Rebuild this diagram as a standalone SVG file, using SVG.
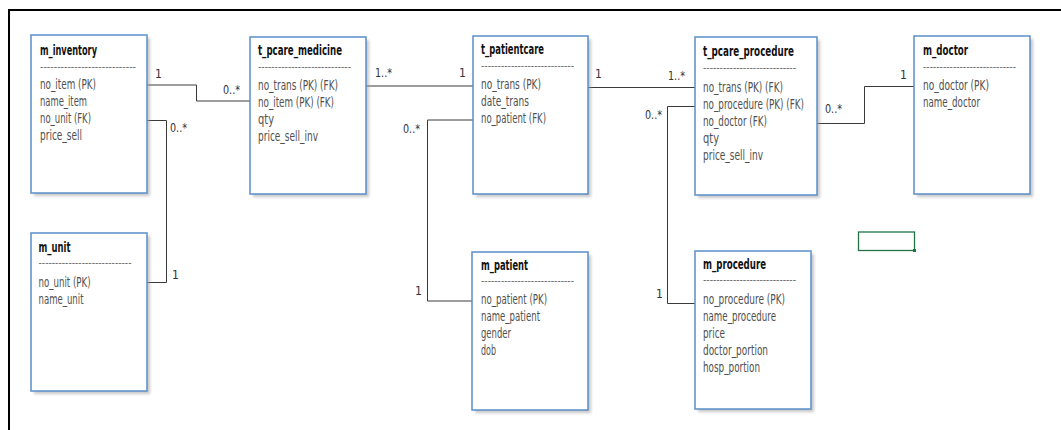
<svg xmlns="http://www.w3.org/2000/svg" width="1061" height="430" viewBox="0 0 1061 430">
<style>
.box{fill:#fff;stroke:#5b8fc9;stroke-width:1.5}
.sh{fill:#9a9a9a;opacity:0.55}
text{font-family:"DejaVu Sans Condensed","Liberation Sans Narrow","Liberation Sans",sans-serif}
.t{font-size:13.5px;font-weight:bold;fill:#111}
.f{font-size:14px;fill:#505050}
.d{font-size:11px;fill:#666}
.c{fill:none;stroke:#3a3a3a;stroke-width:1}
.l{font-size:12px;fill:#333}
</style>
<defs>
<filter id="blur" x="-10%" y="-10%" width="130%" height="130%"><feGaussianBlur stdDeviation="1.5"/></filter>
</defs>
<rect width="1061" height="430" fill="#fff"/>
<path d="M9,432 V10 H1063" fill="none" stroke="#000" stroke-width="2"/>

<g id="connectors">
<path class="c" d="M147,85 H196.5 V101 H250"/>
<path class="c" d="M147,120.5 H166.5 V282.5 H147"/>
<path class="c" d="M366,86 H473"/>
<path class="c" d="M473,120 H427.5 V301 H472"/>
<path class="c" d="M588,87.5 H695"/>
<path class="c" d="M695,106.5 H667.5 V303.5 H695"/>
<path class="c" d="M817,123.5 H864.5 V86.5 H914"/>
<text class="l" x="155" y="78">1</text>
<text class="l" x="223" y="94" textLength="17" lengthAdjust="spacingAndGlyphs">0..*</text>
<text class="l" x="170" y="132" textLength="17" lengthAdjust="spacingAndGlyphs">0..*</text>
<text class="l" x="172" y="279">1</text>
<text class="l" x="375" y="77" textLength="17" lengthAdjust="spacingAndGlyphs">1..*</text>
<text class="l" x="459" y="77">1</text>
<text class="l" x="403" y="133" textLength="17" lengthAdjust="spacingAndGlyphs">0..*</text>
<text class="l" x="415" y="295">1</text>
<text class="l" x="595" y="78">1</text>
<text class="l" x="668" y="80" textLength="17" lengthAdjust="spacingAndGlyphs">1..*</text>
<text class="l" x="645" y="119" textLength="17" lengthAdjust="spacingAndGlyphs">0..*</text>
<text class="l" x="656" y="298">1</text>
<text class="l" x="825" y="113" textLength="17" lengthAdjust="spacingAndGlyphs">0..*</text>
<text class="l" x="900" y="79">1</text>
</g>

<g id="m_inventory">
<rect class="sh" x="34" y="38" width="116" height="158" filter="url(#blur)"/>
<rect class="box" x="31" y="35" width="116" height="158"/>
<text class="t" x="40" y="55" textLength="57" lengthAdjust="spacingAndGlyphs">m_inventory</text>
<text class="d" x="40" y="70" textLength="96" lengthAdjust="spacingAndGlyphs">----------------------------</text>
<text class="f" x="40" y="89" textLength="56" lengthAdjust="spacingAndGlyphs">no_item (PK)</text>
<text class="f" x="40" y="106" textLength="47" lengthAdjust="spacingAndGlyphs">name_item</text>
<text class="f" x="40" y="123" textLength="51" lengthAdjust="spacingAndGlyphs">no_unit (FK)</text>
<text class="f" x="40" y="140" textLength="42" lengthAdjust="spacingAndGlyphs">price_sell</text>
</g>

<g id="m_unit">
<rect class="sh" x="34" y="236" width="116" height="158" filter="url(#blur)"/>
<rect class="box" x="31" y="233" width="116" height="158"/>
<text class="t" x="38.5" y="252" textLength="32" lengthAdjust="spacingAndGlyphs">m_unit</text>
<text class="d" x="38.5" y="266" textLength="93" lengthAdjust="spacingAndGlyphs">----------------------------</text>
<text class="f" x="38.5" y="287" textLength="52" lengthAdjust="spacingAndGlyphs">no_unit (PK)</text>
<text class="f" x="38.5" y="304" textLength="45" lengthAdjust="spacingAndGlyphs">name_unit</text>
</g>

<g id="t_pcare_medicine">
<rect class="sh" x="253" y="40" width="116" height="157" filter="url(#blur)"/>
<rect class="box" x="250" y="37" width="116" height="157"/>
<text class="t" x="258" y="55" textLength="84" lengthAdjust="spacingAndGlyphs">t_pcare_medicine</text>
<text class="d" x="258" y="70" textLength="93" lengthAdjust="spacingAndGlyphs">----------------------------</text>
<text class="f" x="258" y="90" textLength="80" lengthAdjust="spacingAndGlyphs">no_trans (PK) (FK)</text>
<text class="f" x="258" y="107" textLength="76" lengthAdjust="spacingAndGlyphs">no_item (PK) (FK)</text>
<text class="f" x="258" y="124" textLength="16" lengthAdjust="spacingAndGlyphs">qty</text>
<text class="f" x="258" y="141" textLength="60" lengthAdjust="spacingAndGlyphs">price_sell_inv</text>
</g>

<g id="t_patientcare">
<rect class="sh" x="476" y="39" width="115" height="158" filter="url(#blur)"/>
<rect class="box" x="473" y="36" width="115" height="158"/>
<text class="t" x="481" y="54" textLength="63" lengthAdjust="spacingAndGlyphs">t_patientcare</text>
<text class="d" x="481" y="69" textLength="93" lengthAdjust="spacingAndGlyphs">----------------------------</text>
<text class="f" x="481" y="89" textLength="60" lengthAdjust="spacingAndGlyphs">no_trans (PK)</text>
<text class="f" x="481" y="106" textLength="48" lengthAdjust="spacingAndGlyphs">date_trans</text>
<text class="f" x="481" y="123" textLength="65" lengthAdjust="spacingAndGlyphs">no_patient (FK)</text>
</g>

<g id="t_pcare_procedure">
<rect class="sh" x="698" y="40" width="122" height="158" filter="url(#blur)"/>
<rect class="box" x="695" y="37" width="122" height="158"/>
<text class="t" x="703" y="56" textLength="91" lengthAdjust="spacingAndGlyphs">t_pcare_procedure</text>
<text class="d" x="703" y="71" textLength="93" lengthAdjust="spacingAndGlyphs">----------------------------</text>
<text class="f" x="703" y="92" textLength="80" lengthAdjust="spacingAndGlyphs">no_trans (PK) (FK)</text>
<text class="f" x="703" y="109" textLength="101" lengthAdjust="spacingAndGlyphs">no_procedure (PK) (FK)</text>
<text class="f" x="703" y="126" textLength="64" lengthAdjust="spacingAndGlyphs">no_doctor (FK)</text>
<text class="f" x="703" y="143" textLength="16" lengthAdjust="spacingAndGlyphs">qty</text>
<text class="f" x="703" y="160" textLength="60" lengthAdjust="spacingAndGlyphs">price_sell_inv</text>
</g>

<g id="m_doctor">
<rect class="sh" x="917" y="39" width="116" height="158" filter="url(#blur)"/>
<rect class="box" x="914" y="36" width="116" height="158"/>
<text class="t" x="923" y="55" textLength="45" lengthAdjust="spacingAndGlyphs">m_doctor</text>
<text class="d" x="923" y="70" textLength="93" lengthAdjust="spacingAndGlyphs">----------------------------</text>
<text class="f" x="923" y="90" textLength="66" lengthAdjust="spacingAndGlyphs">no_doctor (PK)</text>
<text class="f" x="923" y="107" textLength="57" lengthAdjust="spacingAndGlyphs">name_doctor</text>
</g>

<g id="m_patient">
<rect class="sh" x="475" y="255" width="116" height="158" filter="url(#blur)"/>
<rect class="box" x="472" y="252" width="116" height="158"/>
<text class="t" x="481" y="270" textLength="47" lengthAdjust="spacingAndGlyphs">m_patient</text>
<text class="d" x="481" y="284" textLength="93" lengthAdjust="spacingAndGlyphs">----------------------------</text>
<text class="f" x="481" y="304" textLength="66" lengthAdjust="spacingAndGlyphs">no_patient (PK)</text>
<text class="f" x="481" y="321" textLength="59" lengthAdjust="spacingAndGlyphs">name_patient</text>
<text class="f" x="481" y="338" textLength="30" lengthAdjust="spacingAndGlyphs">gender</text>
<text class="f" x="481" y="355" textLength="15" lengthAdjust="spacingAndGlyphs">dob</text>
</g>

<g id="m_procedure">
<rect class="sh" x="698" y="254" width="116" height="158" filter="url(#blur)"/>
<rect class="box" x="695" y="251" width="116" height="158"/>
<text class="t" x="703" y="269" textLength="63" lengthAdjust="spacingAndGlyphs">m_procedure</text>
<text class="d" x="703" y="283" textLength="93" lengthAdjust="spacingAndGlyphs">----------------------------</text>
<text class="f" x="703" y="304" textLength="82" lengthAdjust="spacingAndGlyphs">no_procedure (PK)</text>
<text class="f" x="703" y="321" textLength="73" lengthAdjust="spacingAndGlyphs">name_procedure</text>
<text class="f" x="703" y="338" textLength="22" lengthAdjust="spacingAndGlyphs">price</text>
<text class="f" x="703" y="355" textLength="65" lengthAdjust="spacingAndGlyphs">doctor_portion</text>
<text class="f" x="703" y="372" textLength="57" lengthAdjust="spacingAndGlyphs">hosp_portion</text>
</g>

<g id="cell_selection">
<rect x="858.5" y="232" width="56" height="18.5" fill="none" stroke="#217346" stroke-width="1.3"/>
<rect x="913" y="249" width="3" height="3" fill="#217346"/>
</g>
</svg>
